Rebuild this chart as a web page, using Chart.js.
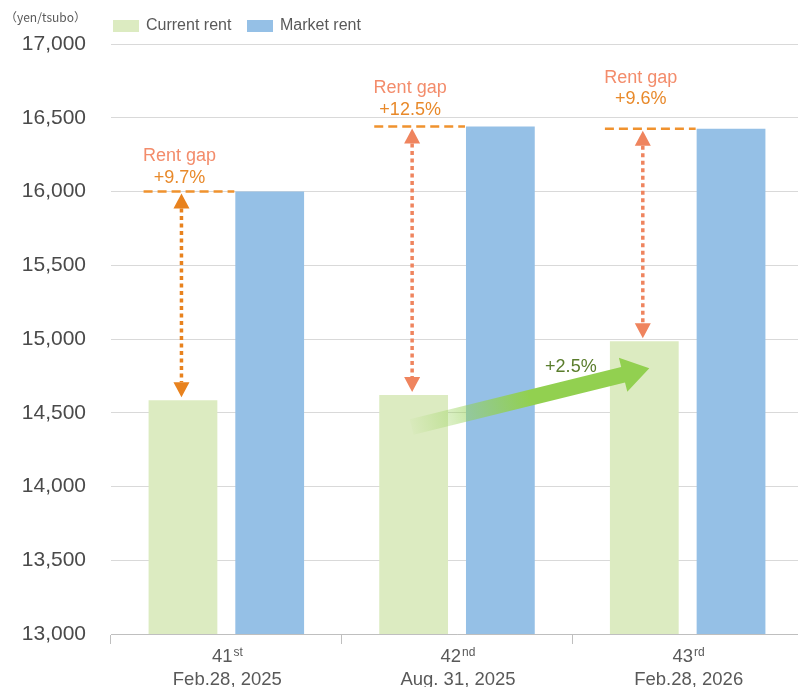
<!DOCTYPE html>
<html><head><meta charset="utf-8">
<script src="https://cdn.jsdelivr.net/npm/chart.js@4/dist/chart.umd.min.js"></script>
<style>
html,body{margin:0;padding:0;background:#fff;overflow:hidden;}
#wrap{width:804px;height:687px;position:relative;}
</style></head><body>
<div id="wrap"><canvas id="c"></canvas></div>
<script>
// ---- data ----
const categories = ['41', '42', '43'];
const ordinalSuffixes = ['st', 'nd', 'rd'];
const dateLabels = ['Feb.28, 2025', 'Aug. 31, 2025', 'Feb.28, 2026'];
const seriesNames = ['Current rent', 'Market rent'];
const currentRent = [14585, 14620, 14985];
const marketRent = [16000, 16440, 16425];
const gapLabels = ['+9.7%', '+12.5%', '+9.6%'];
const growthLabel = '+2.5%';
const unitLabel = '（yen/tsubo）';
const yMin = 13000, yMax = 17000, yStep = 500;

// ---- styles ----
const FONT = '"Liberation Sans", Arial, "Noto Sans CJK JP", sans-serif';
const TEXT = '#595959';
const COL_CUR = '#DCEBC1';
const COL_MKT = '#95C0E6';
const annLayout = [
  { t1: -31, t2: -9, arrow: '#E8821E' },
  { t1: -34, t2: -12, arrow: '#EF845E' },
  { t1: -46, t2: -25, arrow: '#EF845E' }
];

function tri(ctx, x, tipY, dir, hw, h, color) {
  ctx.beginPath();
  ctx.moveTo(x, tipY);
  ctx.lineTo(x - hw, tipY + dir * h);
  ctx.lineTo(x + hw, tipY + dir * h);
  ctx.closePath();
  ctx.fillStyle = color;
  ctx.fill();
}

const overlay = {
  id: 'overlay',
  afterDatasetsDraw(chart) {
    const ctx = chart.ctx;
    const ys = chart.scales.y;
    const cur = chart.getDatasetMeta(0).data;
    const mkt = chart.getDatasetMeta(1).data;
    ctx.save();
    for (let i = 0; i < cur.length; i++) {
      const c = cur[i], m = mkt[i], L = annLayout[i];
      const yLine = ys.getPixelForValue(marketRent[i]);
      const cx = c.x - 1.5;
      ctx.strokeStyle = '#F0922E';
      ctx.lineWidth = 2.5;
      ctx.setLineDash([9, 5]);
      ctx.beginPath();
      ctx.moveTo(c.x - c.width / 2 - 5, yLine);
      ctx.lineTo(m.x - m.width / 2 - 1, yLine);
      ctx.stroke();
      const topTip = yLine + 2;
      const botTip = c.y - 3;
      tri(ctx, cx, topTip, 1, 8, 15, L.arrow);
      tri(ctx, cx, botTip, -1, 8, 15, L.arrow);
      ctx.strokeStyle = L.arrow;
      ctx.lineWidth = 3.5;
      ctx.setLineDash([4, 3.5]);
      ctx.beginPath();
      ctx.moveTo(cx, topTip + 15);
      ctx.lineTo(cx, botTip - 15);
      ctx.stroke();
      ctx.setLineDash([]);
      ctx.textAlign = 'center';
      ctx.textBaseline = 'alphabetic';
      ctx.font = '18px ' + FONT;
      ctx.fillStyle = '#F38C6B';
      ctx.fillText('Rent gap', cx - 2, yLine + L.t1);
      ctx.fillStyle = '#E8892A';
      ctx.fillText(gapLabels[i], cx - 2, yLine + L.t2);
    }
    const s = { x: cur[1].x - 2, y: cur[1].y + 32 };
    const t = { x: cur[2].x + 5, y: cur[2].y + 27 };
    const dx = t.x - s.x, dy = t.y - s.y;
    const len = Math.hypot(dx, dy), ang = Math.atan2(dy, dx);
    ctx.save();
    ctx.translate(s.x, s.y);
    ctx.rotate(ang);
    const g = ctx.createLinearGradient(0, 0, len, 0);
    g.addColorStop(0, 'rgba(146,208,80,0.04)');
    g.addColorStop(0.5, 'rgba(146,208,80,1)');
    g.addColorStop(1, 'rgba(146,208,80,1)');
    ctx.fillStyle = g;
    ctx.beginPath();
    ctx.moveTo(0, -8);
    ctx.lineTo(len - 27, -8);
    ctx.lineTo(len - 27, -17.5);
    ctx.lineTo(len, 0);
    ctx.lineTo(len - 27, 17.5);
    ctx.lineTo(len - 27, 8);
    ctx.lineTo(0, 8);
    ctx.closePath();
    ctx.fill();
    ctx.restore();
    const gx = s.x + dx * 0.67, gy = s.y + dy * 0.67;
    ctx.font = '18px ' + FONT;
    ctx.fillStyle = '#5A7D2C';
    ctx.textAlign = 'center';
    ctx.textBaseline = 'alphabetic';
    ctx.fillText(growthLabel, gx, gy - 16);
    ctx.restore();
  },
  afterDraw(chart) {
    const ctx = chart.ctx;
    ctx.save();
    ctx.font = '12px "Noto Sans CJK JP", ' + FONT;
    ctx.fillStyle = TEXT;
    ctx.textAlign = 'left';
    ctx.textBaseline = 'middle';
    ctx.fillText(unitLabel, 5, 17);
    const ds = chart.data.datasets;
    const legendX = [113, 247];
    ctx.font = '16px ' + FONT;
    ds.forEach((d, i) => {
      ctx.fillStyle = d.backgroundColor;
      ctx.fillRect(legendX[i], 20, 26, 12);
      ctx.fillStyle = TEXT;
      ctx.fillText(d.label, legendX[i] + 33, 26);
    });
    const xs = chart.scales.x;
    ctx.textBaseline = 'alphabetic';
    ctx.textAlign = 'left';
    categories.forEach((cat, i) => {
      const x = xs.getPixelForTick(i) + 1;
      ctx.font = '18.5px ' + FONT;
      const w1 = ctx.measureText(cat).width;
      ctx.font = '12px ' + FONT;
      const w2 = ctx.measureText(ordinalSuffixes[i]).width;
      const x0 = x - (w1 + w2 + 1) / 2;
      ctx.fillStyle = TEXT;
      ctx.font = '18.5px ' + FONT;
      ctx.fillText(cat, x0, 662);
      ctx.font = '12px ' + FONT;
      ctx.fillText(ordinalSuffixes[i], x0 + w1 + 1, 656);
      ctx.font = '18.5px ' + FONT;
      ctx.textAlign = 'center';
      ctx.fillText(dateLabels[i], x, 685);
      ctx.textAlign = 'left';
    });
    ctx.restore();
  }
};

new Chart(document.getElementById('c'), {
  type: 'bar',
  data: {
    labels: categories,
    datasets: [
      { label: seriesNames[0], data: currentRent, backgroundColor: COL_CUR },
      { label: seriesNames[1], data: marketRent, backgroundColor: COL_MKT }
    ]
  },
  options: {
    responsive: true,
    maintainAspectRatio: false,
    animation: false,
    events: [],
    layout: { padding: { left: 0, right: 1, top: 44, bottom: 0 } },
    datasets: { bar: { categoryPercentage: 0.752, barPercentage: 0.793 } },
    plugins: { legend: { display: false }, tooltip: { enabled: false } },
    scales: {
      x: {
        offset: true,
        afterFit(s) { s.height = 53; },
        ticks: { display: false },
        grid: { display: true, offset: true, drawOnChartArea: false, drawTicks: true, tickLength: 10, color: '#BFBFBF', lineWidth: 1 },
        border: { display: true, color: '#BFBFBF', width: 1 }
      },
      y: {
        min: yMin, max: yMax,
        afterFit(s) { s.width = 111; },
        ticks: {
          stepSize: yStep,
          padding: 25,
          color: '#4A4A4A',
          font: { family: FONT, size: 21 },
          callback: v => v.toLocaleString('en-US')
        },
        grid: { color: '#D9D9D9', lineWidth: 1, drawTicks: false },
        border: { display: false }
      }
    }
  },
  plugins: [overlay]
});
</script>
</body></html>
